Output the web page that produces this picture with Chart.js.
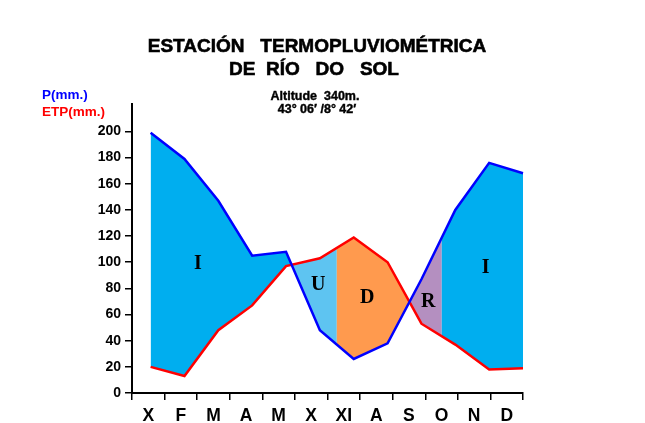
<!DOCTYPE html>
<html>
<head>
<meta charset="utf-8">
<script src="https://cdn.jsdelivr.net/npm/chart.js@4/dist/chart.umd.min.js"></script>
<style>
  html, body { margin: 0; padding: 0; background: #fff; }
  #wrap { width: 645px; height: 423px; }
</style>
</head>
<body>
<div id="wrap"><canvas id="balance_chart"></canvas></div>
<script>
const months = ['X', 'F', 'M', 'A', 'M', 'X', 'XI', 'A', 'S', 'O', 'N', 'D'];
const precip = [199, 179, 147, 105, 108, 48, 26, 38, 87, 140, 176, 168];
const etp = [20, 13, 48, 67, 97, 103, 119, 100, 53, 37, 18, 19];
const yTicks = [0, 20, 40, 60, 80, 100, 120, 140, 160, 180, 200];

// soil water balance periods, limits given on the month index
const zoneStart = [-1, 5.5, 8.6];
const zoneEnd = [5.5, 8.6, 12];
const zoneLetters = ['I', 'U', 'D', 'R', 'I'];
const letterX = [1.4, 4.95, 6.4, 8.2, 9.9];
const letterY = [99, 83, 73, 70, 96];

// colours: surplus side (P > ETP) and deficit side (P < ETP) for each period
const surplusColors = ['#00aeef', '#b48fc0', '#00aeef'];
const deficitColors = ['#5ec4f1', '#ff9a4e', null];

const waterBalance = {
  id: 'waterBalance',
  beforeDatasetsDraw(chart) {
    const {ctx, chartArea: a, scales} = chart;
    const xd = scales.xd, y = scales.y;
    const pp = precip.map((v, i) => [xd.getPixelForValue(i), y.getPixelForValue(v)]);
    const pe = etp.map((v, i) => [xd.getPixelForValue(i), y.getPixelForValue(v)]);
    const n = pp.length - 1;
    const trace = pts => pts.forEach(([px, py], i) => i ? ctx.lineTo(px, py) : ctx.moveTo(px, py));
    const between = () => {
      ctx.beginPath();
      trace(pp);
      for (let i = n; i >= 0; i--) ctx.lineTo(pe[i][0], pe[i][1]);
      ctx.closePath();
    };
    const side = edge => {
      ctx.beginPath();
      trace(pp);
      ctx.lineTo(pp[n][0], edge);
      ctx.lineTo(pp[0][0], edge);
      ctx.closePath();
    };
    zoneStart.forEach((s, k) => {
      const x0 = xd.getPixelForValue(s);
      const x1 = xd.getPixelForValue(zoneEnd[k]);
      [[surplusColors[k], a.bottom + 20], [deficitColors[k], a.top - 20]].forEach(([color, edge]) => {
        if (!color) return;
        ctx.save();
        ctx.beginPath();
        ctx.rect(x0, a.top - 20, x1 - x0, a.bottom - a.top + 40);
        ctx.clip();
        side(edge);
        ctx.clip();
        between();
        ctx.fillStyle = color;
        ctx.fill();
        ctx.restore();
      });
    });
  },
  afterDatasetsDraw(chart) {
    const {ctx, scales} = chart;
    ctx.save();
    ctx.fillStyle = '#000';
    ctx.textAlign = 'center';
    ctx.textBaseline = 'middle';
    ctx.font = 'bold 20px "Liberation Serif", "Times New Roman", serif';
    zoneLetters.forEach((t, i) => {
      ctx.fillText(t, scales.xd.getPixelForValue(letterX[i]), scales.y.getPixelForValue(letterY[i]));
    });
    ctx.restore();
  }
};

const headings = {
  id: 'headings',
  afterDraw(chart) {
    const ctx = chart.ctx;
    const heavy = (text, x, y) => { ctx.fillText(text, x, y); ctx.strokeText(text, x, y); };
    ctx.save();
    ctx.textBaseline = 'alphabetic';
    ctx.textAlign = 'center';
    ctx.fillStyle = '#000';
    ctx.strokeStyle = '#000';
    ctx.lineWidth = 0.6;
    ctx.font = 'bold 19px "Liberation Sans", Arial, sans-serif';
    heavy('ESTACIÓN   TERMOPLUVIOMÉTRICA', 317, 52);
    heavy('DE  RÍO   DO   SOL', 314, 75);
    ctx.lineWidth = 0.4;
    ctx.font = 'bold 12.5px "Liberation Sans", Arial, sans-serif';
    heavy('Altitude  340m.', 315, 100);
    heavy('43° 06′ /8° 42′', 317, 113);
    ctx.textAlign = 'left';
    ctx.font = 'bold 13.5px "Liberation Sans", Arial, sans-serif';
    ctx.fillStyle = '#0000ff';
    ctx.fillText('P(mm.)', 42, 99);
    ctx.fillStyle = '#ff0000';
    ctx.fillText('ETP(mm.)', 42, 116);
    ctx.restore();
  }
};

function drawBalance(el) {
  if (!el) return;

  const data = {
    labels: months,
    datasets: [
      {
        label: 'P',
        data: precip.map((v, i) => ({x: i, y: v})),
        xAxisID: 'xd',
        borderColor: '#0000ff',
        borderWidth: 2.5,
        pointRadius: 0,
        fill: false,
        clip: false
      },
      {
        label: 'ETP',
        data: etp.map((v, i) => ({x: i, y: v})),
        xAxisID: 'xd',
        borderColor: '#ff0000',
        borderWidth: 2.5,
        pointRadius: 0,
        fill: false,
        clip: false
      }
    ]
  };

  const config = {
    type: 'line',
    data: data,
    options: {
      responsive: true,
      maintainAspectRatio: false,
      animation: false,
      layout: {
        padding: {top: 104, right: 122, bottom: 0, left: 0}
      },
      scales: {
        x: {
          type: 'category',
          labels: months,
          offset: true,
          grid: {offset: true, drawOnChartArea: false, tickLength: 7, color: '#000', lineWidth: 1.5},
          border: {color: '#000', width: 2},
          ticks: {
            color: '#000',
            padding: 6,
            autoSkip: false,
            maxRotation: 0,
            font: {size: 17.5, weight: 'bold'}
          },
          afterFit: s => { s.height = 30; }
        },
        xd: {
          type: 'linear',
          display: false,
          position: 'bottom',
          min: -0.55,
          max: 11
        },
        y: {
          min: 0,
          max: 221,
          grid: {drawOnChartArea: false, tickLength: 7, color: '#000', lineWidth: 1.5},
          border: {color: '#000', width: 2},
          ticks: {
            color: '#000',
            padding: 4,
            font: {size: 14, weight: 'bold'}
          },
          afterBuildTicks: s => { s.ticks = yTicks.map(v => ({value: v})); },
          afterFit: s => { s.width = 132; }
        }
      },
      plugins: {
        legend: {display: false},
        tooltip: {enabled: false},
        title: {display: false}
      }
    },
    plugins: [waterBalance, headings]
  };

  new Chart(el, config);
}

Chart.defaults.font.family = '"Liberation Sans", Arial, sans-serif';
drawBalance(document.getElementById('balance_chart'));
</script>
</body>
</html>
